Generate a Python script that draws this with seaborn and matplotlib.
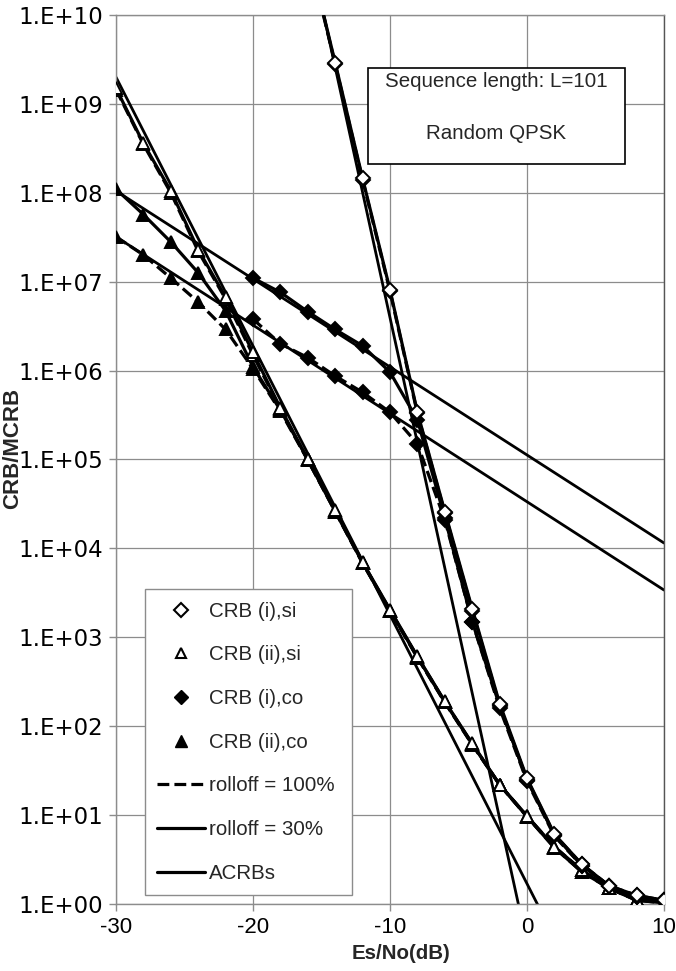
import numpy as np
import pandas as pd
import matplotlib
matplotlib.use("Agg")
import matplotlib.pyplot as plt
from matplotlib.lines import Line2D
from matplotlib.patches import Rectangle
from matplotlib.ticker import FixedLocator, NullLocator
import seaborn as sns

# ---------------- data ----------------
x_i_co = [-20, -18, -16, -14, -12, -10, -8, -6, -4, -2, 0, 2, 4, 6, 8, 10]
crb_i_co_30 = [1.1e7, 7.6e6, 4.6e6, 2.9e6, 1.9e6, 9.6e5, 2.8e5, 2.2e4, 1.5e3, 170, 25, 6.0, 2.7, 1.6, 1.2, 1.1]
crb_i_co_100 = [3.8e6, 2.0e6, 1.4e6, 8.7e5, 5.7e5, 3.4e5, 1.5e5, 2.1e4, 1.5e3, 160, 24, 5.8, 2.7, 1.6, 1.2, 1.1]

x_i_si = [-16, -14, -12, -10, -8, -6, -4, -2, 0, 2, 4, 6, 8, 10]
crb_i_si_30 = [5.5e10, 2.9e9, 1.45e8, 8.1e6, 3.4e5, 2.6e4, 2.1e3, 180, 26, 6.1, 2.8, 1.6, 1.25, 1.1]
crb_i_si_100 = [5.3e10, 2.8e9, 1.4e8, 7.8e6, 3.3e5, 2.5e4, 2.0e3, 172, 25, 6.0, 2.8, 1.6, 1.25, 1.1]

x_ii = [-30, -28, -26, -24, -22, -20, -18, -16, -14, -12, -10, -8, -6, -4, -2, 0, 2, 4, 6, 8, 10]
crb_ii_si_30 = [1.5e9, 3.6e8, 1.05e8, 2.3e7, 6.7e6, 1.6e6, 3.8e5, 1.0e5, 2.7e4, 7.0e3, 2.05e3, 610, 190, 64, 22, 9.8, 4.4, 2.4, 1.5, 1.12, 1.05]
crb_ii_si_100 = [1.45e9, 3.5e8, 1.0e8, 2.2e7, 6.4e6, 1.5e6, 3.7e5, 9.9e4, 2.65e4, 6.9e3, 2.0e3, 600, 188, 63, 22, 9.7, 4.4, 2.4, 1.5, 1.12, 1.05]
crb_ii_co_30 = [1.1e8, 5.7e7, 2.8e7, 1.26e7, 4.7e6, 1.1e6, 3.6e5, 1.0e5, 2.6e4, 6.9e3, 2.0e3, 600, 187, 63, 22, 9.6, 4.3, 2.3, 1.5, 1.1, 1.03]
crb_ii_co_100 = [3.2e7, 2.0e7, 1.1e7, 5.9e6, 2.9e6, 1.05e6, 3.5e5, 9.8e4, 2.6e4, 6.8e3, 2.0e3, 590, 185, 62, 22, 9.6, 4.3, 2.3, 1.5, 1.1, 1.03]

# asymptotic bounds (straight lines in log scale)
acrb_co_x = [-30, 10]
acrb_i_co_30 = [1.05e8, 1.15e4]
acrb_i_co_100 = [3.2e7, 3.4e3]
acrb_i_si_x = [-16, 0]
acrb_i_si = [6.6e10, 0.36]
acrb_ii_si_x = [-30, 2]
acrb_ii_si = [2.0e9, 0.42]

y_ticks = [1e0, 1e1, 1e2, 1e3, 1e4, 1e5, 1e6, 1e7, 1e8, 1e9, 1e10]
y_tick_labels = ["1.E+00", "1.E+01", "1.E+02", "1.E+03", "1.E+04", "1.E+05",
                 "1.E+06", "1.E+07", "1.E+08", "1.E+09", "1.E+10"]
x_ticks = [-30, -20, -10, 0, 10]
legend_labels = ["CRB (i),si", "CRB (ii),si", "CRB (i),co", "CRB (ii),co",
                 "rolloff = 100%", "rolloff = 30%", "ACRBs"]

# ---------------- style ----------------
sns.set_theme(style="white")
plt.rcParams["font.family"] = ["Liberation Sans", "DejaVu Sans"]
FS = 14.8

fig = plt.figure(figsize=(6.76, 9.71), dpi=100)
ax = fig.add_axes([116 / 676, 67 / 971, 548 / 676, 889 / 971])
ax.set_yscale("log")

GRID = "#8c8c8c"
ax.grid(True, which="major", color=GRID, lw=0.9)
ax.set_axisbelow(True)

def curve(x, y, marker=None, mfc="black", ls="-", lw=2.3, ms=7, z=3):
    df = pd.DataFrame({"x": x, "y": y})
    sns.lineplot(data=df, x="x", y="y", ax=ax, color="black", lw=lw,
                 linestyle=ls, marker=marker, markersize=ms,
                 markerfacecolor=mfc, markeredgecolor="black",
                 markeredgewidth=1.4, zorder=z, legend=False)

# ACRB lines
curve(acrb_co_x, acrb_i_co_30, lw=2.0, z=2)
curve(acrb_co_x, acrb_i_co_100, lw=2.0, z=2)
curve(acrb_i_si_x, acrb_i_si, lw=2.0, z=2)
curve(acrb_ii_si_x, acrb_ii_si, lw=2.0, z=2)

# CRB curves
curve(x_ii, crb_ii_co_100, marker="^", ls="--", ms=8.5)
curve(x_ii, crb_ii_co_30, marker="^", ms=8.5)
curve(x_ii, crb_ii_si_100, marker="^", mfc="white", ls="--", ms=8.5)
curve(x_ii, crb_ii_si_30, marker="^", mfc="white", ms=8.5)
curve(x_i_co, crb_i_co_100, marker="D", ls="--", ms=7)
curve(x_i_co, crb_i_co_30, marker="D", ms=7)
curve(x_i_si, crb_i_si_100, marker="D", mfc="white", ls="--", ms=7)
curve(x_i_si, crb_i_si_30, marker="D", mfc="white", ms=7)

ax.set_xlim(-30, 10)
ax.set_ylim(1, 1e10)
ax.xaxis.set_major_locator(FixedLocator(x_ticks))
ax.set_xticklabels([str(v) for v in x_ticks])
ax.yaxis.set_major_locator(FixedLocator(y_ticks))
ax.yaxis.set_minor_locator(NullLocator())
ax.set_yticklabels(y_tick_labels)
ax.tick_params(axis="both", which="major", direction="out", length=5,
               width=1, color=GRID, labelcolor="black", pad=4,
               left=True, bottom=True)
ax.tick_params(axis="x", labelsize=16)
ax.tick_params(axis="y", labelsize=16.5)
for lab in ax.get_yticklabels():
    lab.set_fontfamily(["DejaVu Sans"])
for s in ax.spines.values():
    s.set_color(GRID)
    s.set_linewidth(1.0)
ax.spines["right"].set_color("#555555")

ax.set_xlabel("Es/No(dB)", fontsize=FS, fontweight="bold")
ax.xaxis.set_label_coords(0.52, -0.045)
ax.set_ylabel("CRB/MCRB", fontsize=16, fontweight="bold")
ax.yaxis.set_label_coords(-0.17, 0.512)

# info box
ax.add_patch(Rectangle((0.460, 0.832), 0.469, 0.108, transform=ax.transAxes,
                       facecolor="white", edgecolor="black", lw=1.2, zorder=5))
ax.text(0.694, 0.925, "Sequence length: L=101", transform=ax.transAxes,
        ha="center", va="center", fontsize=FS, zorder=6)
ax.text(0.694, 0.867, "Random QPSK", transform=ax.transAxes,
        ha="center", va="center", fontsize=FS, zorder=6)

# legend
handles = [
    Line2D([], [], ls="none", marker="D", mfc="white", mec="black", mew=1.5, ms=7, color="black"),
    Line2D([], [], ls="none", marker="^", mfc="white", mec="black", mew=1.5, ms=7.5, color="black"),
    Line2D([], [], ls="none", marker="D", mfc="black", mec="black", ms=7.5, color="black"),
    Line2D([], [], ls="none", marker="^", mfc="black", mec="black", ms=8.5, color="black"),
    Line2D([], [], ls="--", color="black", lw=2.3),
    Line2D([], [], ls="-", color="black", lw=2.3),
    Line2D([], [], ls="-", color="black", lw=2.3),
]
leg = ax.legend(handles, legend_labels, loc="lower left",
                bbox_to_anchor=(0.053, 0.010, 0.378, 0.34), mode="expand",
                fontsize=FS, frameon=True,
                fancybox=False, framealpha=1, edgecolor=GRID,
                labelspacing=1.2, handlelength=2.3, handletextpad=0.2,
                borderpad=0.6, borderaxespad=0)
leg.get_frame().set_linewidth(1.0)
leg.set_zorder(7)

fig.savefig("out.png", dpi=100)
